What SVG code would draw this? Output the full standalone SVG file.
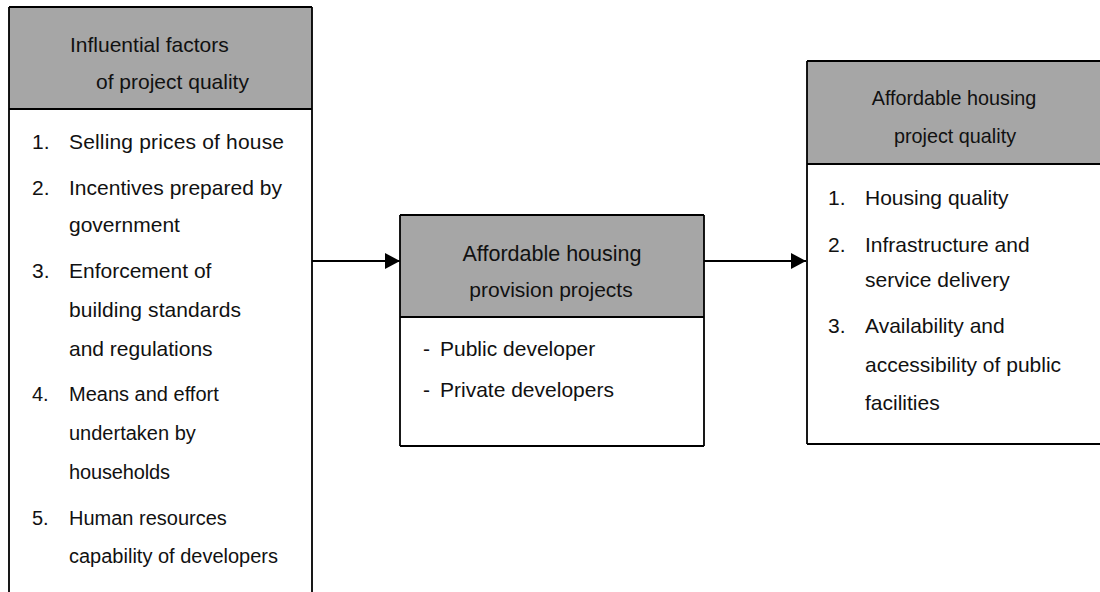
<svg xmlns="http://www.w3.org/2000/svg" width="1100" height="592" viewBox="0 0 1100 592">
<defs>
<style>
.t{font-family:"Liberation Sans",Arial,sans-serif;font-size:21px;fill:#111}
.s{font-size:20px}
.h{fill:#a6a6a6;stroke:none}
.ln{stroke:#000;stroke-width:1.8;fill:none}
.c{stroke:#000;stroke-width:2.2;fill:none}
</style>
<marker id="ah" markerUnits="userSpaceOnUse" markerWidth="16" markerHeight="18" refX="15" refY="8" orient="auto">
<path d="M0,0 L15,8 L0,16 Z" fill="#000"/>
</marker>
</defs>
<rect width="1100" height="592" fill="#fff"/>

<g id="factors">
<rect class="h" x="9" y="7" width="303" height="102"/>
<path class="ln" d="M9,7 H312 M9,109 H312 M9,7 V592 M312,7 V592"/>
<text class="t" x="70" y="52">Influential factors</text>
<text class="t" x="96" y="89">of project quality</text>
<text class="t" x="32" y="149">1.</text><text class="t" x="69" y="149" textLength="215">Selling prices of house</text>
<text class="t" x="32" y="195">2.</text><text class="t" x="69" y="195" textLength="213">Incentives prepared by</text>
<text class="t" x="69" y="232">government</text>
<text class="t" x="32" y="278">3.</text><text class="t" x="69" y="278">Enforcement of</text>
<text class="t" x="69" y="317" textLength="172">building standards</text>
<text class="t" x="69" y="356">and regulations</text>
<text class="t s" x="32" y="401">4.</text><text class="t s" x="69" y="401">Means and effort</text>
<text class="t s" x="69" y="440">undertaken by</text>
<text class="t s" x="69" y="479" textLength="101">households</text>
<text class="t s" x="32" y="525">5.</text><text class="t s" x="69" y="525">Human resources</text>
<text class="t s" x="69" y="563">capability of developers</text>
</g>

<g id="provision">
<rect class="h" x="400" y="215" width="304" height="102"/>
<path class="ln" d="M400,215 H704 M400,317 H704 M400,446 H704 M400,215 V446 M704,215 V446"/>
<text class="t" x="552" y="261" text-anchor="middle" style="font-size:21.5px">Affordable housing</text>
<text class="t" x="551" y="297" text-anchor="middle">provision projects</text>
<text class="t" x="423" y="356">-</text><text class="t" x="440" y="356">Public developer</text>
<text class="t" x="423" y="397">-</text><text class="t" x="440" y="397">Private developers</text>
</g>

<g id="quality">
<rect class="h" x="807" y="61" width="293" height="103"/>
<path class="ln" d="M807,61 H1100 M807,164 H1100 M807,444 H1100 M807,61 V444"/>
<text class="t" x="954" y="105" text-anchor="middle" style="font-size:19.8px">Affordable housing</text>
<text class="t" x="955" y="143" text-anchor="middle" style="font-size:19.8px">project quality</text>
<text class="t" x="828" y="205">1.</text><text class="t" x="865" y="205">Housing quality</text>
<text class="t" x="828" y="252">2.</text><text class="t" x="865" y="252">Infrastructure and</text>
<text class="t" x="865" y="287">service delivery</text>
<text class="t" x="828" y="333">3.</text><text class="t" x="865" y="333">Availability and</text>
<text class="t" x="865" y="372">accessibility of public</text>
<text class="t" x="865" y="410">facilities</text>
</g>

<g id="connectors">
<line class="c" x1="312" y1="261" x2="400" y2="261" marker-end="url(#ah)"/>
<line class="c" x1="704" y1="261" x2="806" y2="261" marker-end="url(#ah)"/>
</g>
</svg>
